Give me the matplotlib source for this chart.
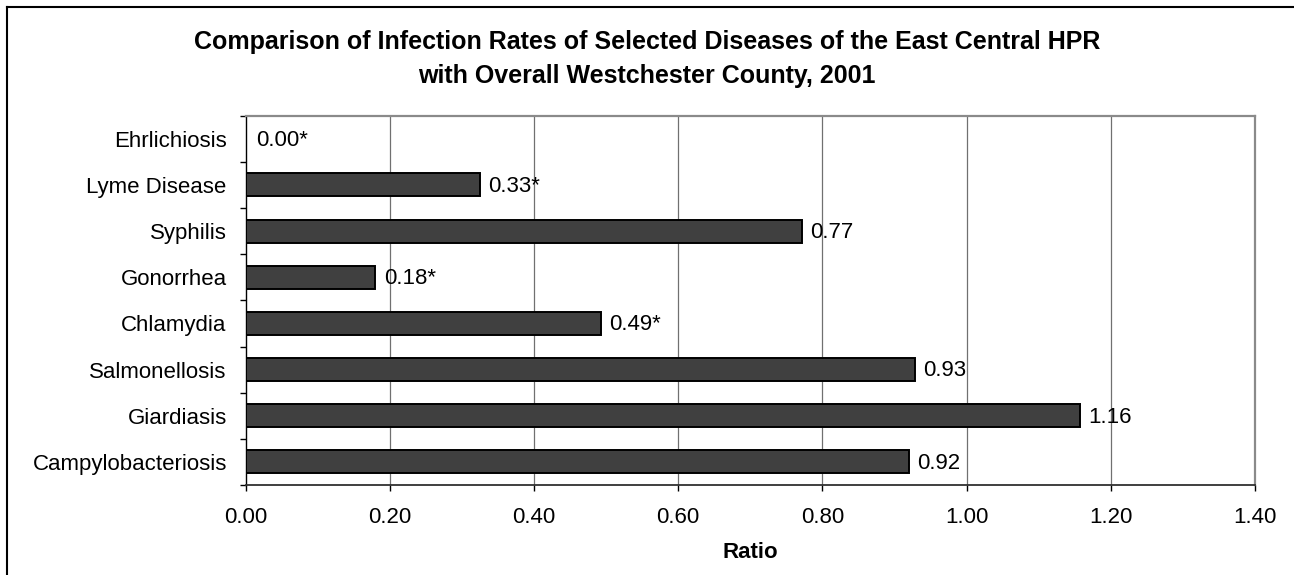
import matplotlib
matplotlib.use("Agg")
import matplotlib.pyplot as plt
from matplotlib.lines import Line2D
from matplotlib.ticker import FixedLocator, NullFormatter

plt.rcParams['font.family'] = ['Liberation Sans', 'DejaVu Sans']

# Data (top to bottom as displayed)
categories = ["Ehrlichiosis", "Lyme Disease", "Syphilis", "Gonorrhea",
              "Chlamydia", "Salmonellosis", "Giardiasis", "Campylobacteriosis"]
values = [0.00, 0.325, 0.772, 0.18, 0.493, 0.928, 1.157, 0.92]
value_labels = ["0.00*", "0.33*", "0.77", "0.18*", "0.49*", "0.93", "1.16", "0.92"]
x_ticks = [0.0, 0.2, 0.4, 0.6, 0.8, 1.0, 1.2, 1.4]
x_tick_labels = ["0.00", "0.20", "0.40", "0.60", "0.80", "1.00", "1.20", "1.40"]
title_line1 = "Comparison of Infection Rates of Selected Diseases of the East Central HPR"
title_line2 = "with Overall Westchester County, 2001"
x_label = "Ratio"

W, H = 1294, 575
fig = plt.figure(figsize=(W / 100, H / 100), dpi=100)
fig.patch.set_facecolor("white")

left, right, top, bottom = 245.5, 1255.0, 115.7, 485.0
ax = fig.add_axes([left / W, 1 - bottom / H, (right - left) / W, (bottom - top) / H])

n = len(categories)
ypos = list(range(n - 1, -1, -1))
ax.barh(ypos, values, height=0.5, color="#404040", edgecolor="black",
        linewidth=1.4, zorder=3)

for y, v, lab in zip(ypos, values, value_labels):
    ax.annotate(lab, xy=(v, y), xytext=(6.0 if v > 0 else 7.5, -1.0),
                textcoords="offset points", va="center", ha="left",
                fontsize=16, color="black", zorder=4)

ax.set_xlim(0, 1.4)
ax.set_ylim(-0.5, n - 0.5)

ax.set_xticks(x_ticks)
ax.set_xticklabels(x_tick_labels, fontsize=16)
ax.set_yticks(ypos)
ax.set_yticklabels(categories, fontsize=16)
ax.yaxis.set_minor_locator(FixedLocator([i - 0.5 for i in range(n + 1)]))
ax.yaxis.set_minor_formatter(NullFormatter())
ax.tick_params(axis="y", which="major", length=0, pad=13.5)
ax.tick_params(axis="y", which="minor", length=4, width=1, color="black", direction="out")
ax.tick_params(axis="x", which="major", length=4, width=1, color="black",
               direction="out", pad=12)

for gx in x_ticks[1:-1]:
    ax.axvline(gx, color="#707070", lw=0.9, zorder=1)

for s in ["top", "right"]:
    ax.spines[s].set_color("#8a8a8a")
    ax.spines[s].set_linewidth(1.6)
ax.spines["left"].set_color("black")
ax.spines["left"].set_linewidth(1.0)
ax.spines["bottom"].set_color("#303030")
ax.spines["bottom"].set_linewidth(1.3)

fig.text(647 / W, 1 - 42 / H, title_line1, ha="center", va="center",
         fontsize=18, fontweight="bold")
fig.text(647 / W, 1 - 76 / H, title_line2, ha="center", va="center",
         fontsize=18, fontweight="bold")
fig.text((left + right) / 2 / W, 1 - 552.5 / H, x_label, ha="center", va="center",
         fontsize=16, fontweight="bold")

# outer chart border (left and top visible)
bx, by = 7 / W, 1 - 7 / H
fig.add_artist(Line2D([bx, bx], [0, by], color="black", lw=1.5))
fig.add_artist(Line2D([bx, 1], [by, by], color="black", lw=1.5))

fig.savefig("out.png", dpi=100, facecolor="white")
